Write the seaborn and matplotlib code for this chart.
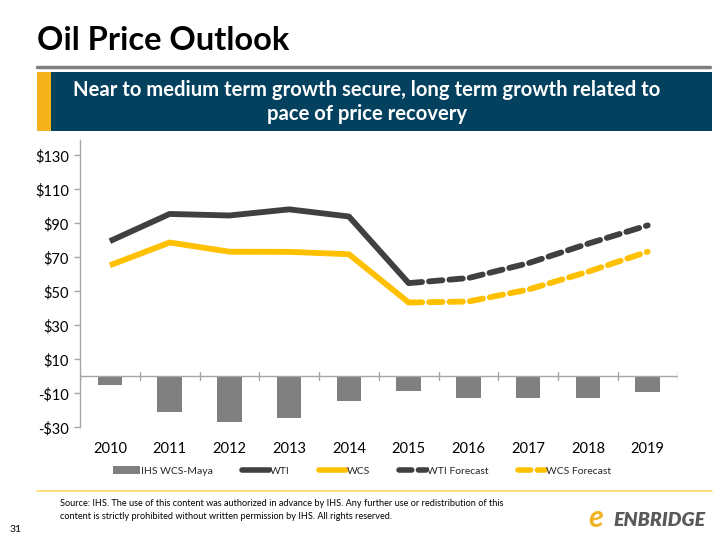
import numpy as np
import pandas as pd
import matplotlib.pyplot as plt
import seaborn as sns
from matplotlib.lines import Line2D
from matplotlib.patches import Patch, Rectangle

years = ["2010", "2011", "2012", "2013", "2014", "2015", "2016", "2017", "2018", "2019"]
wcs_maya = [-5.3, -20.9, -27.0, -24.8, -14.8, -8.4, -13.0, -13.0, -12.5, -9.4]
wti = [79.5, 95.5, 94.6, 98.2, 94.0, 54.8]
wcs = [65.3, 78.7, 73.3, 73.2, 71.8, 43.4]
wti_fc = [54.8, 57.8, 66.5, 78.0, 88.8]
wcs_fc = [43.4, 44.0, 51.0, 61.5, 73.3]
yticks = [-30, -10, 10, 30, 50, 70, 90, 110, 130]

DARK = "#404040"
GOLD = "#FFC000"
BARC = "#808080"
AXC = "#A6A6A6"

sns.set_theme(style="white")
plt.rcParams["font.family"] = ["Lato", "DejaVu Sans"]

fig = plt.figure(figsize=(7.2, 5.4), dpi=100)
ax = fig.add_axes([80 / 720, 1 - 427.3 / 540, (677.6 - 80) / 720, (427.3 - 140) / 540])

pos = np.arange(len(years))
bars = pd.DataFrame({"pos": pos, "val": wcs_maya})
sns.barplot(data=bars, x="pos", y="val", color=BARC, width=0.41, saturation=1,
            ax=ax, native_scale=True, edgecolor="none")

lw = 4.2
dash = (2.3, 1.2)
sns.lineplot(x=pos[:6], y=wti, color=DARK, lw=lw, ax=ax, solid_capstyle="butt")
sns.lineplot(x=pos[:6], y=wcs, color=GOLD, lw=lw, ax=ax, solid_capstyle="butt")
sns.lineplot(x=pos[5:], y=wti_fc, color=DARK, lw=lw, ax=ax)
ax.lines[-1].set_dashes(dash)
ax.lines[-1].set_dash_capstyle("round")
sns.lineplot(x=pos[5:], y=wcs_fc, color=GOLD, lw=lw, ax=ax)
ax.lines[-1].set_dashes(dash)
ax.lines[-1].set_dash_capstyle("round")

ax.set_xlim(-0.5, 9.5)
ax.set_ylim(-30, 139)
ax.set_yticks(yticks)
ax.set_yticklabels([f"${v}" if v >= 0 else f"-${-v}" for v in yticks], fontsize=10.5, color="#000000")
ax.set_xticks([])
for sp in ["top", "right", "bottom"]:
    ax.spines[sp].set_visible(False)
ax.spines["left"].set_color(AXC)
ax.spines["left"].set_linewidth(1)
ax.tick_params(axis="y", length=4, width=1, color=AXC, pad=4, left=True)
ax.set_xlabel("")
ax.set_ylabel("")

# zero line with category-boundary ticks
ax.axhline(0, color=AXC, lw=1, zorder=1)
for b in np.arange(-0.5, 10.0, 1.0):
    ax.plot([b, b], [-2.3, 2.3], color=AXC, lw=1, zorder=1)
for p, y in zip(pos, years):
    ax.text(p, -43, y, ha="center", va="center", fontsize=10.5, color="#000000")

handles = [
    Patch(facecolor=BARC, edgecolor="none"),
    Line2D([], [], color=DARK, lw=4),
    Line2D([], [], color=GOLD, lw=4),
    Line2D([], [], color=DARK, lw=4, dashes=(2.3, 1.2), dash_capstyle="round"),
    Line2D([], [], color=GOLD, lw=4, dashes=(2.3, 1.2), dash_capstyle="round"),
]
labels = ["IHS WCS-Maya", "WTI", "WCS", "WTI Forecast", "WCS Forecast"]
fig.legend(handles, labels, loc="center", bbox_to_anchor=(362 / 720, 1 - 471 / 540), ncol=5,
           frameon=False, fontsize=7.5, handlelength=2.6, handletextpad=0.1,
           columnspacing=2.8, handleheight=0.7)

# slide decoration
fig.text(37 / 720, 1 - 41 / 540, "Oil Price Outlook", fontsize=23.5, fontweight="bold",
         ha="left", va="center", color="#000000")
fig.add_artist(Line2D([37 / 720, 710 / 720], [1 - 67 / 540] * 2, color="#7F7F7F", lw=2.5))
fig.add_artist(Rectangle((37 / 720, 1 - 131 / 540), 14 / 720, 59 / 540,
                         facecolor="#F6B21B", edgecolor="none"))
fig.add_artist(Rectangle((51 / 720, 1 - 131 / 540), 661 / 720, 59 / 540,
                         facecolor="#03415F", edgecolor="none"))
fig.text(367 / 720, 1 - 102 / 540,
         "Near to medium term growth secure, long term growth related to\npace of price recovery",
         fontsize=14.6, fontweight="bold", color="white", ha="center", va="center",
         linespacing=1.25)

fig.add_artist(Line2D([37 / 720, 712 / 720], [1 - 491 / 540] * 2, color="#FFD966", lw=1.2))
fig.text(60 / 720, 1 - 510 / 540,
         "Source: IHS. The use of this content was authorized in advance by IHS. Any further use or redistribution of this\n"
         "content is strictly prohibited without written permission by IHS. All rights reserved.",
         fontsize=6.6, ha="left", va="center", color="#000000", linespacing=1.55)
fig.text(10 / 720, 1 - 530 / 540, "31", fontsize=7.5, ha="left", va="center", color="#000000")
fig.text(613 / 720, 1 - 521 / 540, "ENBRIDGE", fontsize=14, fontweight="heavy", style="italic",
         ha="left", va="center", color="#58595B")
fig.text(588 / 720, 1 - 518 / 540, "e", fontsize=22, style="italic", fontweight="bold",
         ha="left", va="center", color="#F0B323")

fig.savefig("out.png", dpi=100)
